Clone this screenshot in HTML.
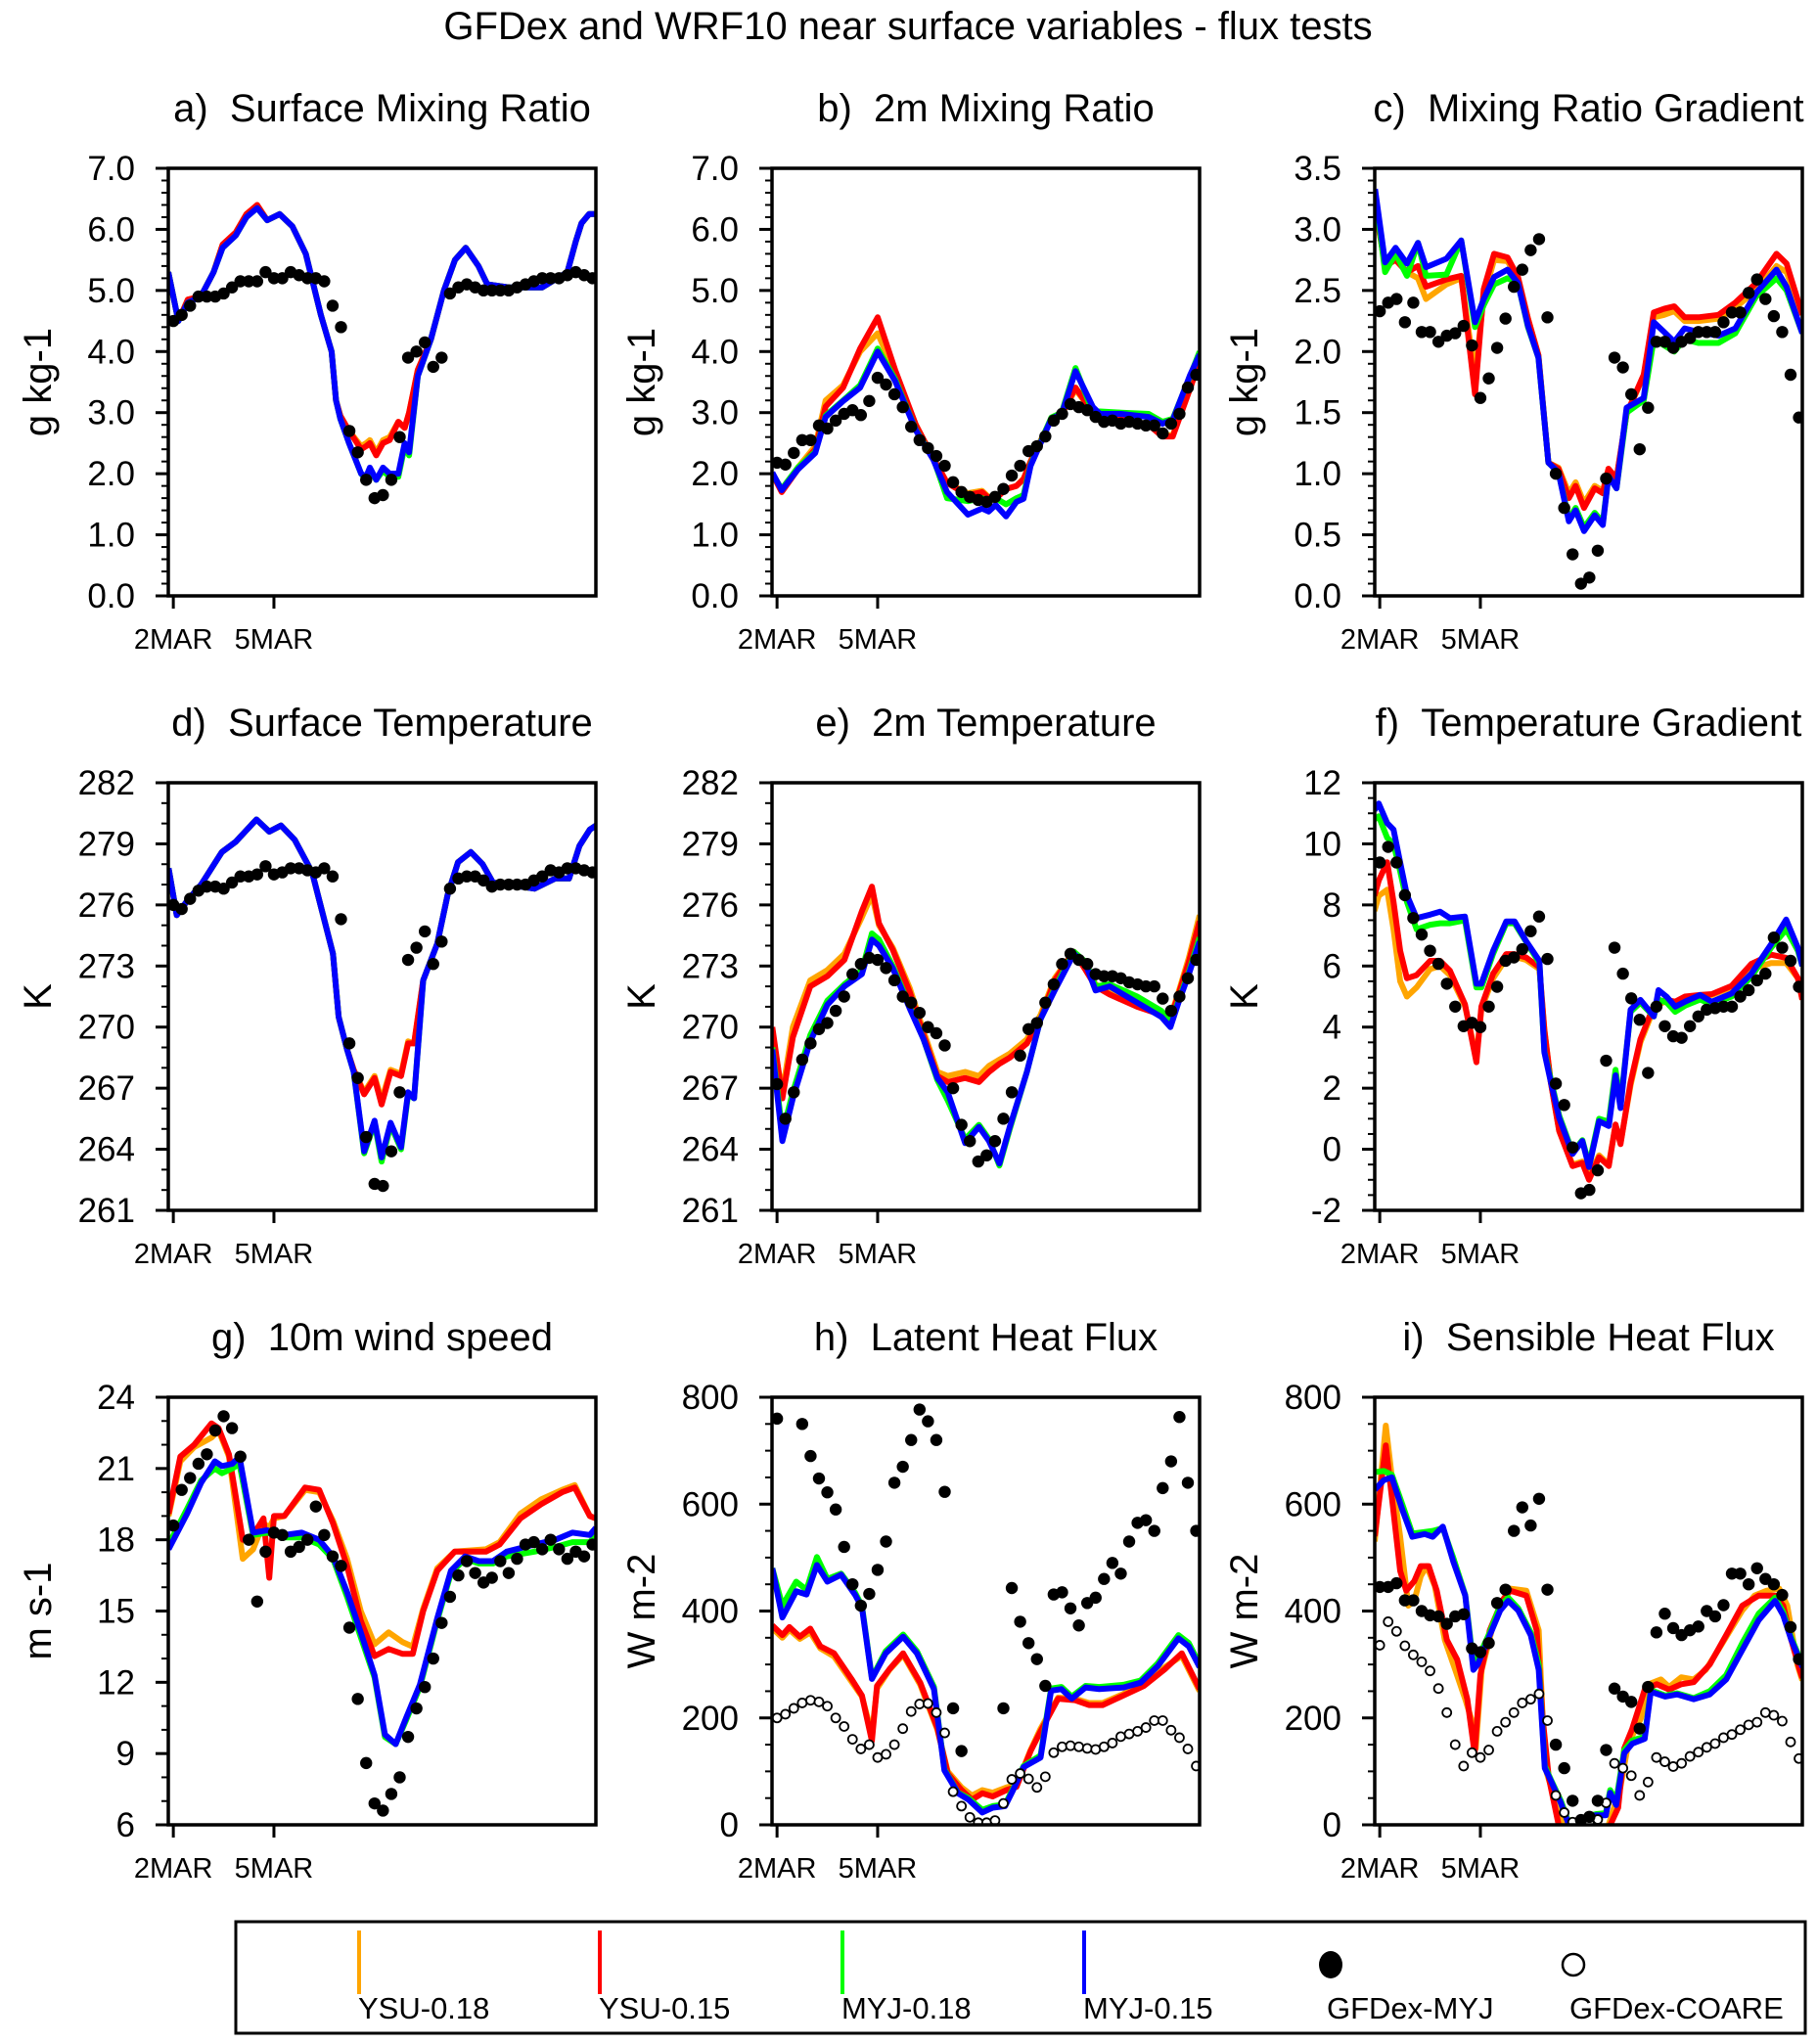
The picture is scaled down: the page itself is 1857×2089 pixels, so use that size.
<!DOCTYPE html>
<html><head><meta charset="utf-8">
<style>
html,body{margin:0;padding:0;background:#fff;}
svg{display:block;font-family:"Liberation Sans",Arial,sans-serif;}
</style></head>
<body>
<svg id="fig" xmlns="http://www.w3.org/2000/svg" width="1857" height="2089" viewBox="0 0 1857 2089">
<rect x="0" y="0" width="1857" height="2089" fill="#fff"/>
<text x="928" y="40" font-size="40" text-anchor="middle">GFDex and WRF10 near surface variables - flux tests</text>
<g id="panels"></g>
<g>
<rect x="241" y="1964" width="1604" height="114" fill="none" stroke="#000" stroke-width="3"/>
<line x1="367" y1="1973" x2="367" y2="2038" stroke="#FFA500" stroke-width="4"/>
<text x="366" y="2063" font-size="31">YSU-0.18</text>
<line x1="613" y1="1973" x2="613" y2="2038" stroke="#FF0000" stroke-width="4"/>
<text x="612" y="2063" font-size="31">YSU-0.15</text>
<line x1="861" y1="1973" x2="861" y2="2038" stroke="#00FF00" stroke-width="4"/>
<text x="860" y="2063" font-size="31">MYJ-0.18</text>
<line x1="1108" y1="1973" x2="1108" y2="2038" stroke="#0000FF" stroke-width="4"/>
<text x="1107" y="2063" font-size="31">MYJ-0.15</text>
<ellipse cx="1360" cy="2008" rx="12" ry="14" fill="#000"/>
<text x="1356" y="2063" font-size="31">GFDex-MYJ</text>
<circle cx="1608" cy="2008" r="11" fill="#fff" stroke="#000" stroke-width="2.5"/>
<text x="1604" y="2063" font-size="31">GFDex-COARE</text>
</g>
</svg>
<script>
// ---------- DATA ----------
const obsTimes = Array.from({length:51},(_,i)=>i*0.25);
const xTickDays = [0,3];
const xTickLabels = ["2MAR","5MAR"];

// a) Surface mixing ratio
const aT=[-0.15,0.15,0.43,0.82,1.2,1.47,1.86,2.18,2.5,2.8,3.17,3.55,3.95,4.4,4.72,4.85,4.98,5.24,5.6,5.75,5.86,6.05,6.25,6.45,6.71,6.9,7.03,7.29,7.68,8.07,8.4,8.72,9.1,9.36,10.0,11.0,11.75,12.0,12.17,12.4,12.6];
const aBlue=[5.3,4.5,4.8,4.9,5.3,5.7,5.9,6.2,6.35,6.15,6.25,6.05,5.6,4.6,4.0,3.2,2.9,2.5,2.0,1.95,2.1,1.9,2.1,2.0,2.0,2.5,2.35,3.6,4.2,5.0,5.5,5.7,5.4,5.1,5.05,5.05,5.3,5.8,6.1,6.25,6.25];
const aGreen=[5.3,4.5,4.8,4.9,5.3,5.7,5.9,6.2,6.35,6.15,6.25,6.05,5.6,4.6,4.0,3.2,2.9,2.5,2.0,1.9,2.05,1.9,2.05,1.95,1.95,2.45,2.3,3.6,4.2,5.0,5.5,5.7,5.4,5.1,5.05,5.05,5.3,5.8,6.1,6.25,6.25];
const aRed=[5.3,4.5,4.85,4.9,5.3,5.75,5.95,6.25,6.4,6.15,6.25,6.05,5.6,4.6,4.0,3.2,2.95,2.7,2.4,2.45,2.5,2.3,2.5,2.55,2.85,2.75,3.0,3.7,4.2,5.0,5.5,5.7,5.4,5.1,5.05,5.05,5.3,5.8,6.1,6.25,6.25];
const aOrange=[5.3,4.5,4.85,4.9,5.3,5.75,5.95,6.25,6.4,6.15,6.25,6.05,5.6,4.6,4.0,3.2,2.95,2.7,2.45,2.5,2.55,2.35,2.55,2.6,2.85,2.75,3.0,3.7,4.2,5.0,5.5,5.7,5.4,5.1,5.05,5.05,5.3,5.8,6.1,6.25,6.25];
const aObs=[4.5,4.6,4.75,4.9,4.9,4.9,4.95,5.05,5.15,5.15,5.15,5.3,5.2,5.2,5.3,5.25,5.2,5.2,5.15,4.75,4.4,2.7,2.35,1.9,1.6,1.65,1.9,2.6,3.9,4.0,4.15,3.75,3.9,4.95,5.05,5.1,5.05,5.0,5.0,5.0,5.0,5.05,5.1,5.15,5.2,5.2,5.2,5.25,5.3,5.25,5.2];

// b) 2m mixing ratio
const bT=[-0.14,0.14,0.62,1.14,1.45,1.97,2.48,3.0,3.52,4.14,4.66,5.07,5.69,6.11,6.31,6.52,6.83,7.14,7.35,7.56,8.18,8.49,8.9,9.42,9.63,10.25,11.08,11.49,11.8,12.32,12.6];
const bBlue=[2.02,1.73,2.07,2.34,2.93,3.19,3.41,4.0,3.52,2.71,2.23,1.70,1.33,1.43,1.38,1.49,1.30,1.54,1.59,2.13,2.90,2.98,3.68,3.09,2.98,2.98,2.93,2.82,2.88,3.62,3.95];
const bGreen=[2.0,1.75,2.1,2.36,2.95,3.2,3.45,4.05,3.55,2.72,2.25,1.6,1.55,1.6,1.55,1.6,1.5,1.6,1.65,2.15,2.92,3.0,3.73,3.0,3.02,3.0,2.98,2.85,2.9,3.6,4.0];
const bRed=[2.0,1.7,2.07,2.4,3.1,3.41,4.05,4.56,3.7,2.8,2.25,1.85,1.65,1.70,1.60,1.59,1.75,1.80,1.91,2.2,2.9,2.98,3.41,3.0,2.92,2.9,2.8,2.61,2.61,3.4,3.85];
const bOrange=[2.0,1.72,2.1,2.45,3.2,3.45,4.0,4.3,3.65,2.8,2.25,1.85,1.68,1.72,1.62,1.6,1.75,1.8,1.92,2.2,2.9,2.98,3.38,3.0,2.92,2.9,2.8,2.63,2.63,3.4,3.85];
const bObs=[2.18,2.15,2.34,2.55,2.55,2.79,2.74,2.87,2.98,3.04,2.96,3.19,3.57,3.46,3.30,3.09,2.77,2.55,2.42,2.29,2.13,1.86,1.70,1.62,1.57,1.54,1.62,1.75,1.97,2.13,2.37,2.45,2.61,2.87,2.98,3.14,3.09,3.04,2.93,2.85,2.87,2.82,2.85,2.82,2.79,2.79,2.66,2.82,2.98,3.41,3.62];

// c) mixing ratio gradient
const cT=[-0.14,0.16,0.47,0.81,1.14,1.38,1.99,2.43,2.84,3.10,3.41,3.81,4.12,4.42,4.73,5.03,5.33,5.64,5.84,6.09,6.41,6.65,6.82,7.06,7.36,7.87,8.17,8.48,8.78,9.09,9.5,10.1,10.6,11.22,11.83,12.13,12.6];
const cBlue=[3.33,2.73,2.85,2.72,2.89,2.69,2.76,2.91,2.24,2.43,2.61,2.67,2.56,2.21,1.95,1.09,1.01,0.61,0.70,0.53,0.66,0.58,0.98,0.88,1.54,1.62,2.24,2.16,2.08,2.19,2.16,2.13,2.19,2.48,2.67,2.53,2.15];
const cGreen=[3.3,2.65,2.8,2.62,2.89,2.62,2.63,2.91,2.2,2.38,2.55,2.6,2.56,2.2,1.95,1.09,1.01,0.63,0.72,0.56,0.68,0.6,0.98,0.88,1.5,1.6,2.1,2.05,2.0,2.1,2.07,2.07,2.15,2.45,2.6,2.5,2.15];
const cRed=[3.2,2.7,2.75,2.65,2.7,2.53,2.59,2.62,1.65,2.51,2.80,2.77,2.61,2.27,1.97,1.09,1.04,0.80,0.90,0.72,0.88,0.84,1.04,0.96,1.49,1.81,2.32,2.35,2.37,2.28,2.28,2.30,2.40,2.56,2.8,2.72,2.3];
const cOrange=[3.2,2.7,2.75,2.65,2.6,2.43,2.55,2.6,1.8,2.45,2.75,2.74,2.6,2.27,1.97,1.09,1.05,0.84,0.93,0.76,0.9,0.86,1.04,0.96,1.49,1.8,2.28,2.3,2.33,2.25,2.25,2.27,2.36,2.5,2.7,2.65,2.3];
const cObs=[2.33,2.40,2.43,2.24,2.40,2.16,2.16,2.08,2.13,2.15,2.21,2.05,1.62,1.78,2.03,2.27,2.53,2.67,2.83,2.92,2.28,1.0,0.72,0.34,0.10,0.15,0.37,0.96,1.95,1.87,1.65,1.2,1.54,2.08,2.08,2.03,2.08,2.11,2.16,2.16,2.16,2.24,2.32,2.32,2.48,2.59,2.43,2.29,2.16,1.81,1.46];

// d) surface temperature
const dT=[-0.14,0.1,0.41,0.83,1.45,1.86,2.48,2.86,3.21,3.62,4.14,4.76,4.93,5.18,5.38,5.69,6.0,6.21,6.48,6.79,7.0,7.18,7.45,7.87,8.18,8.49,8.87,9.22,9.53,9.94,10.77,11.39,11.8,12.11,12.42,12.6];
const dBlue=[277.8,275.5,276.2,277.0,278.6,279.1,280.2,279.6,279.9,279.2,277.6,273.6,270.5,268.9,267.8,263.9,265.4,263.6,265.3,264.1,266.8,266.5,272.3,274.1,276.5,278.1,278.6,278.0,277.1,277.0,276.8,277.3,277.3,278.9,279.7,279.9];
const dGreen=[277.8,275.5,276.2,277.0,278.6,279.1,280.2,279.6,279.9,279.2,277.6,273.6,270.5,268.9,267.8,263.8,265.3,263.4,265.2,264.0,266.7,266.5,272.3,274.1,276.5,278.1,278.6,278.0,277.1,277.0,276.8,277.3,277.3,278.9,279.7,279.9];
const dRed=[277.8,275.5,276.2,277.0,278.6,279.1,280.2,279.6,279.9,279.2,277.6,273.6,270.5,268.9,267.9,266.7,267.5,266.2,267.8,267.6,269.2,269.2,272.3,274.1,276.5,278.1,278.6,278.0,277.1,277.0,276.8,277.3,277.3,278.9,279.7,279.9];
const dOrange=[277.8,275.5,276.2,277.0,278.6,279.1,280.2,279.6,279.9,279.2,277.6,273.6,270.5,268.9,267.9,266.8,267.6,266.4,267.9,267.7,269.3,269.2,272.3,274.1,276.5,278.1,278.6,278.0,277.1,277.0,276.8,277.3,277.3,278.9,279.7,279.9];
const dObs=[276.0,275.8,276.3,276.7,276.9,276.9,276.8,277.1,277.4,277.4,277.5,277.9,277.5,277.6,277.8,277.8,277.7,277.6,277.8,277.4,275.3,269.2,267.5,264.6,262.3,262.2,263.9,266.8,273.3,273.9,274.7,273.1,274.2,276.8,277.3,277.4,277.4,277.2,276.9,277.0,277.0,277.0,277.0,277.2,277.4,277.7,277.6,277.8,277.8,277.7,277.6];

// e) 2m temperature
const eT=[-0.14,0.16,0.47,0.99,1.5,2.01,2.53,2.83,3.04,3.45,3.96,4.37,4.78,5.09,5.61,6.02,6.32,6.63,6.94,7.45,7.86,8.28,8.85,9.2,9.5,9.92,10.74,11.46,11.73,11.97,12.28,12.6];
const eBlue=[268.9,264.4,266.5,269.3,271.1,272.0,272.6,274.3,274.0,272.9,270.9,269.4,267.5,266.8,264.3,265.1,264.4,263.3,265.1,267.8,270.4,271.8,273.6,273.1,271.8,272.0,271.2,270.5,270.0,271.2,272.6,274.2];
const eGreen=[269.0,264.8,266.8,269.6,271.3,272.1,272.8,274.6,274.3,273.0,271.0,269.4,267.4,266.4,264.5,265.2,264.5,263.2,265.0,267.8,270.4,271.9,273.7,273.2,272.0,272.1,271.5,270.8,270.2,271.3,272.7,274.4];
const eRed=[270.0,266.5,269.5,272.0,272.5,273.3,275.7,276.9,275.1,273.8,271.7,269.6,267.6,267.3,267.5,267.3,267.8,268.2,268.5,269.2,270.4,272.3,273.7,272.8,272.0,271.6,271.0,270.6,270.4,271.6,273.2,275.2];
const eOrange=[269.6,266.8,270.0,272.3,272.8,273.6,275.4,276.5,275.0,273.9,271.9,269.8,267.8,267.6,267.8,267.6,268.1,268.4,268.7,269.4,270.6,272.4,273.7,272.9,272.1,271.7,271.1,270.7,270.5,271.7,273.4,275.5];
const eObs=[267.2,265.5,266.8,268.4,269.2,269.9,270.2,270.8,271.5,272.6,273.1,273.4,273.3,272.9,272.3,271.5,271.2,270.7,270.0,269.7,269.1,267.0,265.2,264.4,263.4,263.7,264.4,265.5,266.8,268.6,269.9,270.2,271.2,272.1,273.1,273.6,273.3,273.1,272.6,272.5,272.5,272.4,272.2,272.1,272.0,272.0,271.4,270.8,271.5,272.4,273.3];

// f) temperature gradient
const fT=[-0.16,-0.03,0.22,0.41,0.61,0.81,1.1,1.5,1.8,2.09,2.54,2.88,3.03,3.38,3.77,4.02,4.36,4.76,4.91,5.1,5.35,5.75,6.04,6.24,6.54,6.83,7.03,7.18,7.48,7.77,8.17,8.31,8.56,8.81,9.1,9.55,9.9,10.49,11.08,11.67,12.12,12.47,12.6];
const fBlue=[11.1,11.32,10.68,10.47,9.39,8.32,7.57,7.68,7.78,7.57,7.62,5.42,5.42,6.50,7.46,7.46,6.82,6.17,3.17,2.21,1.03,-0.15,0.27,-0.58,0.92,0.76,2.42,1.35,4.57,4.89,4.35,5.21,4.99,4.67,4.83,5.05,4.83,5.10,5.75,6.71,7.52,6.60,6.0];
const fGreen=[10.8,10.9,10.2,10.0,9.1,8.1,7.2,7.35,7.4,7.4,7.5,5.3,5.3,6.4,7.4,7.4,6.8,6.1,3.2,2.3,1.1,-0.1,0.3,-0.5,1.0,0.9,2.6,1.5,4.5,4.8,4.35,4.9,4.8,4.5,4.7,4.9,4.75,5.0,5.65,6.6,7.2,6.5,6.0];
const fRed=[8.3,8.8,9.4,8.1,6.5,5.6,5.7,6.17,6.17,5.85,4.75,2.85,4.67,5.75,6.39,6.39,6.28,5.96,3.9,2.2,0.6,-0.55,-0.45,-1.0,-0.26,-0.55,0.81,0.17,2.2,3.6,4.7,4.82,4.89,4.83,5.0,5.05,5.08,5.35,6.07,6.37,6.27,5.6,4.9];
const fOrange=[7.8,8.3,8.5,7.2,5.5,5.0,5.3,5.9,6.0,5.7,4.7,3.0,4.6,5.6,6.25,6.3,6.2,5.9,3.9,2.2,0.6,-0.5,-0.4,-0.9,-0.2,-0.5,0.8,0.2,2.1,3.5,4.6,4.75,4.85,4.8,4.95,5.0,5.05,5.3,5.9,6.1,6.1,5.6,4.9];
const fObs=[9.39,9.9,9.39,8.32,7.57,7.03,6.5,6.07,5.42,4.67,4.03,4.14,4.0,4.67,5.32,6.17,6.28,6.55,7.14,7.62,6.23,2.15,1.45,0.06,-1.44,-1.33,-0.69,2.9,6.6,5.75,4.94,4.24,2.5,4.67,4.03,3.7,3.65,4.03,4.35,4.57,4.62,4.67,4.67,5.0,5.21,5.53,5.75,6.93,6.6,6.17,5.32];

// g) 10m wind speed
const gT=[-0.14,0.21,0.62,1.14,1.35,1.66,2.07,2.38,2.69,2.86,3.0,3.31,3.93,4.35,4.76,5.18,5.59,6.0,6.42,6.83,7.14,7.45,7.87,8.39,9.32,9.73,10.35,10.97,11.59,11.97,12.42,12.6];
const gRed=[19.1,21.5,22.0,22.9,22.7,21.6,18.0,18.2,18.9,16.4,19.0,19.0,20.2,20.1,18.7,16.9,14.6,13.1,13.4,13.2,13.2,15.0,16.7,17.5,17.5,17.8,18.9,19.5,20.0,20.2,19.0,18.9];
const gOrange=[19.0,21.3,21.9,22.3,22.6,21.5,17.2,17.6,18.7,18.5,18.9,19.0,20.1,20.0,18.8,17.2,15.0,13.6,14.1,13.7,13.5,15.1,16.8,17.5,17.6,17.9,19.1,19.7,20.1,20.3,19.0,18.9];
const gBT=[-0.14,0.41,0.83,1.24,1.45,1.76,1.97,2.38,2.8,3.31,3.83,4.35,4.76,5.18,5.59,6.0,6.31,6.63,6.94,7.35,7.87,8.28,8.7,9.11,9.53,9.94,10.77,11.39,11.9,12.42,12.6];
const gBlue=[17.6,19.1,20.4,21.3,21.1,21.2,21.5,18.3,18.4,18.2,18.3,18.0,17.3,15.8,14.1,12.3,9.8,9.4,10.5,11.9,14.7,16.7,17.3,17.1,17.1,17.5,17.8,18.0,18.3,18.2,18.5];
const gGreen=[17.8,19.3,20.5,21.0,20.8,21.0,21.2,18.2,18.3,18.1,18.1,17.8,17.2,15.6,13.9,12.2,9.7,9.4,10.4,11.8,14.6,16.6,17.2,17.0,17.0,17.3,17.5,17.7,17.9,17.9,18.2];
const gObs=[18.6,20.1,20.6,21.2,21.6,22.6,23.2,22.7,21.5,18.0,15.4,17.5,18.3,18.2,17.5,17.7,18.0,19.4,18.2,17.3,16.9,14.3,11.3,8.6,6.9,6.6,7.3,8.0,9.7,10.9,11.8,13.0,14.5,15.6,16.5,17.1,16.6,16.2,16.4,17.1,16.6,17.2,17.8,17.9,17.6,18.0,17.6,17.2,17.5,17.3,17.8];

// h) latent heat flux
const hBT=[-0.14,0.16,0.57,0.88,1.19,1.5,1.91,2.32,2.53,2.83,3.24,3.76,4.17,4.68,4.99,5.4,5.71,6.12,6.43,6.8,7.04,7.35,7.86,8.17,8.48,8.79,9.2,9.61,10.33,10.84,11.35,11.97,12.28,12.6];
const hBlue=[480,388,437,431,486,455,468,431,407,273,321,352,321,254,102,59,47,23,32,35,65,108,126,251,254,236,257,254,257,266,297,349,334,295];
const hGreen=[480,410,455,440,501,460,470,435,410,275,325,356,325,258,104,60,50,28,35,38,68,110,130,255,258,240,260,258,262,270,302,355,340,300];
const hRT=[-0.14,0.16,0.37,0.68,0.99,1.29,1.7,2.22,2.53,2.83,2.98,3.35,3.76,4.27,4.78,5.09,5.5,5.81,6.12,6.43,6.84,7.14,7.56,7.86,8.38,8.89,9.3,9.71,10.33,10.94,11.56,12.07,12.6];
const hRed=[373,355,370,352,367,334,321,273,242,157,260,291,321,266,181,96,65,47,59,53,65,71,138,175,236,233,224,224,242,260,291,321,254];
const hOrange=[368,350,365,348,360,330,315,268,240,170,255,290,318,262,178,100,70,55,65,60,70,75,140,180,238,236,228,228,245,265,295,316,250];
const hObs=[760,null,null,750,690,648,622,590,520,450,410,432,477,530,640,670,720,777,755,720,623,218,138,null,null,null,null,218,443,380,340,310,260,431,435,405,373,415,425,460,490,470,530,565,570,550,630,680,763,640,550];
const hCoare=[200,207,218,228,233,230,222,200,184,160,142,150,126,132,150,180,212,226,227,210,172,62,35,14,4,4,8,40,85,96,86,70,90,135,146,148,146,143,141,146,153,165,170,175,182,195,195,177,163,142,110];

// i) sensible heat flux
const iOT=[-0.15,0.18,0.36,0.61,0.85,1.03,1.22,1.4,1.64,1.94,2.25,2.55,2.73,2.86,3.04,3.34,3.65,3.89,4.37,4.74,4.86,4.98,5.35,5.59,6.8,7.17,7.41,7.78,8.02,8.38,8.63,8.99,9.36,9.72,10.09,10.45,10.81,11.18,11.54,11.91,12.15,12.45,12.6];
const iOrange=[530,747,650,539,410,419,465,484,447,346,290,235,198,143,290,364,419,442,438,364,198,97,23,-14,-5,69,152,198,263,272,258,276,272,290,327,364,401,429,438,442,410,300,270];
const iRT=[-0.15,0.18,0.36,0.61,0.79,1.03,1.22,1.46,1.7,2.0,2.31,2.61,2.83,3.0,3.28,3.65,3.89,4.37,4.68,4.86,5.04,5.35,6.8,7.11,7.29,7.53,7.9,8.26,8.63,8.99,9.36,9.84,10.33,10.81,11.3,11.79,12.03,12.27,12.52,12.6];
const iRed=[540,710,613,475,438,456,484,484,438,346,309,235,134,281,364,419,438,429,364,198,88,-5,-10,32,143,180,253,263,253,263,267,300,355,410,429,429,410,346,290,275];
const iBT=[-0.15,0.12,0.36,0.67,0.97,1.34,1.58,1.88,2.19,2.55,2.79,2.92,3.28,3.59,3.83,4.13,4.5,4.74,4.92,5.1,5.4,5.64,5.95,6.2,6.44,6.74,6.87,7.05,7.29,7.53,7.9,8.08,8.51,8.87,9.36,9.84,10.33,10.81,11.3,11.79,12.03,12.27,12.52,12.6];
const iBlue=[627,645,650,590,539,544,539,558,493,429,290,300,355,401,419,401,355,290,106,83,41,0,0,14,18,18,60,37,134,152,161,249,240,244,235,244,272,327,383,419,392,346,309,295];
const iGreen=[660,662,655,600,545,548,550,555,500,430,300,310,360,410,425,405,360,300,110,85,45,3,3,16,20,22,65,45,140,158,165,252,242,246,237,250,280,340,395,425,398,350,312,300];
const iObs=[445,445,452,420,420,400,392,390,376,390,394,330,323,340,415,440,550,594,560,610,440,150,106,45,9,15,45,140,255,240,230,180,258,360,395,368,355,364,371,400,390,411,470,470,450,480,460,450,430,370,310];
const iCoare=[336,380,362,335,318,305,288,255,210,150,110,135,126,140,175,192,210,228,235,245,195,55,23,5,2,3,10,41,115,106,92,55,80,126,118,109,115,128,136,145,152,163,169,178,187,192,210,205,194,155,124];

// y tick arrays
const ticksMix = [0,1,2,3,4,5,6,7];
const ticksMixLbl = ["0.0","1.0","2.0","3.0","4.0","5.0","6.0","7.0"];
const ticksGrad = [0,0.5,1,1.5,2,2.5,3,3.5];
const ticksGradLbl = ["0.0","0.5","1.0","1.5","2.0","2.5","3.0","3.5"];
const ticksTemp = [261,264,267,270,273,276,279,282];
const ticksTempLbl = ["261","264","267","270","273","276","279","282"];
const ticksTG = [-2,0,2,4,6,8,10,12];
const ticksTGLbl = ["-2","0","2","4","6","8","10","12"];
const ticksWind = [6,9,12,15,18,21,24];
const ticksWindLbl = ["6","9","12","15","18","21","24"];
const ticksFlux = [0,200,400,600,800];
const ticksFluxLbl = ["0","200","400","600","800"];

// ---------- DRAWING ----------
const NS="http://www.w3.org/2000/svg";
const svg=document.getElementById('fig');
const root=document.getElementById('panels');
const colLeft=[172,789,1405], colW=[437,437,437];
const rowTop=[172,800,1428], PH=437;
const tMin=-0.15, tMax=12.6;
function mk(tag,attrs,parent){const e=document.createElementNS(NS,tag);for(const k in attrs)e.setAttribute(k,attrs[k]);(parent||root).appendChild(e);return e;}

const panels=[
 {id:'a',title:'a)\u00a0\u00a0Surface Mixing Ratio',ylab:'g kg-1',min:0,max:7,tv:ticksMix,tl:ticksMixLbl,minor:0.2,
  series:[[aT,aOrange,'#FFA500'],[aT,aRed,'#FF0000'],[aT,aGreen,'#00FF00'],[aT,aBlue,'#0000FF']],obs:aObs},
 {id:'b',title:'b)\u00a0\u00a02m Mixing Ratio',ylab:'g kg-1',min:0,max:7,tv:ticksMix,tl:ticksMixLbl,minor:0.2,
  series:[[bT,bOrange,'#FFA500'],[bT,bRed,'#FF0000'],[bT,bGreen,'#00FF00'],[bT,bBlue,'#0000FF']],obs:bObs},
 {id:'c',title:'c)\u00a0\u00a0Mixing Ratio Gradient',ylab:'g kg-1',min:0,max:3.5,tv:ticksGrad,tl:ticksGradLbl,minor:0.1,
  series:[[cT,cOrange,'#FFA500'],[cT,cRed,'#FF0000'],[cT,cGreen,'#00FF00'],[cT,cBlue,'#0000FF']],obs:cObs},
 {id:'d',title:'d)\u00a0\u00a0Surface Temperature',ylab:'K',min:261,max:282,tv:ticksTemp,tl:ticksTempLbl,minor:1,
  series:[[dT,dOrange,'#FFA500'],[dT,dRed,'#FF0000'],[dT,dGreen,'#00FF00'],[dT,dBlue,'#0000FF']],obs:dObs},
 {id:'e',title:'e)\u00a0\u00a02m Temperature',ylab:'K',min:261,max:282,tv:ticksTemp,tl:ticksTempLbl,minor:1,
  series:[[eT,eOrange,'#FFA500'],[eT,eRed,'#FF0000'],[eT,eGreen,'#00FF00'],[eT,eBlue,'#0000FF']],obs:eObs},
 {id:'f',title:'f)\u00a0\u00a0Temperature Gradient',ylab:'K',min:-2,max:12,tv:ticksTG,tl:ticksTGLbl,minor:0.5,
  series:[[fT,fOrange,'#FFA500'],[fT,fRed,'#FF0000'],[fT,fGreen,'#00FF00'],[fT,fBlue,'#0000FF']],obs:fObs},
 {id:'g',title:'g)\u00a0\u00a010m wind speed',ylab:'m s-1',min:6,max:24,tv:ticksWind,tl:ticksWindLbl,minor:1,
  series:[[gT,gOrange,'#FFA500'],[gT,gRed,'#FF0000'],[gBT,gGreen,'#00FF00'],[gBT,gBlue,'#0000FF']],obs:gObs},
 {id:'h',title:'h)\u00a0\u00a0Latent Heat Flux',ylab:'W m-2',min:0,max:800,tv:ticksFlux,tl:ticksFluxLbl,minor:50,
  series:[[hRT,hOrange,'#FFA500'],[hRT,hRed,'#FF0000'],[hBT,hGreen,'#00FF00'],[hBT,hBlue,'#0000FF']],obs:hObs,coare:hCoare},
 {id:'i',title:'i)\u00a0\u00a0Sensible Heat Flux',ylab:'W m-2',min:0,max:800,tv:ticksFlux,tl:ticksFluxLbl,minor:50,
  series:[[iOT,iOrange,'#FFA500'],[iRT,iRed,'#FF0000'],[iBT,iGreen,'#00FF00'],[iBT,iBlue,'#0000FF']],obs:iObs,coare:iCoare}
];
const seriesNames=['ysu-018','ysu-015','myj-018','myj-015'];
const defs=mk('defs',{},svg);

panels.forEach((p,k)=>{
  const L=colLeft[k%3], W=colW[k%3], T=rowTop[Math.floor(k/3)];
  const xs=t=>L+(t-tMin)/(tMax-tMin)*W;
  const ys=v=>T+PH-(v-p.min)/(p.max-p.min)*PH;
  const g=mk('g',{});
  
  
  const cp=mk('clipPath',{id:'clip'+p.id},defs);
  mk('rect',{x:L,y:T,width:W,height:PH},cp);
  const tt=mk('text',{x:L+W/2,y:T-48,'font-size':40,'text-anchor':'middle'},g);
  tt.textContent=p.title;
  
  
  const yl=mk('text',{x:0,y:0,'font-size':40,'text-anchor':'middle',transform:`translate(${L-120},${T+PH/2}) rotate(-90)`},g);
  yl.textContent=p.ylab;
  
  
  for(let v=p.min;v<=p.max+1e-9;v+=p.minor){
    const y=ys(v);
    mk('line',{x1:L-7,y1:y,x2:L,y2:y,stroke:'#000','stroke-width':2},g);
  }
  p.tv.forEach((v,j)=>{
    const y=ys(v);
    mk('line',{x1:L-13,y1:y,x2:L,y2:y,stroke:'#000','stroke-width':3},g);
    const tl=mk('text',{x:L-34,y:y+12,'font-size':35,'text-anchor':'end'},g);
    tl.textContent=p.tl[j];
    
    
  });
  xTickDays.forEach((d,j)=>{
    const x=xs(d);
    mk('line',{x1:x,y1:T+PH,x2:x,y2:T+PH+13,stroke:'#000','stroke-width':3},g);
    const xl=mk('text',{x:x,y:T+PH+54,'font-size':29,'text-anchor':'middle'},g);
    xl.textContent=xTickLabels[j];
    
    
  });
  const sg=mk('g',{'clip-path':`url(#clip${p.id})`},g);
  p.series.forEach((s,j)=>{
    const [tt2,vv,col]=s;
    let d='';
    vv.forEach((v,i)=>{d+=(i?'L':'M')+xs(tt2[i]).toFixed(1)+','+ys(v).toFixed(1);});
    const pa=mk('path',{d:d,fill:'none',stroke:col,'stroke-width':6,'stroke-linejoin':'round'},sg);
    
    
  });
  if(p.coare){
    p.coare.forEach((v,i)=>{
      if(v===null)return;
      const c=mk('circle',{cx:xs(obsTimes[i]),cy:ys(v),r:4.5,fill:'#fff',stroke:'#000','stroke-width':1.8},sg);
      
      
    });
  }
  p.obs.forEach((v,i)=>{
    if(v===null)return;
    const c=mk('circle',{cx:xs(obsTimes[i]),cy:ys(v),r:6.2,fill:'#000'},sg);
    
    
  });
  const fr=mk('rect',{x:L,y:T,width:W,height:PH,fill:'none',stroke:'#000','stroke-width':3.5},g);
  
  
});
</script>
</body></html>
